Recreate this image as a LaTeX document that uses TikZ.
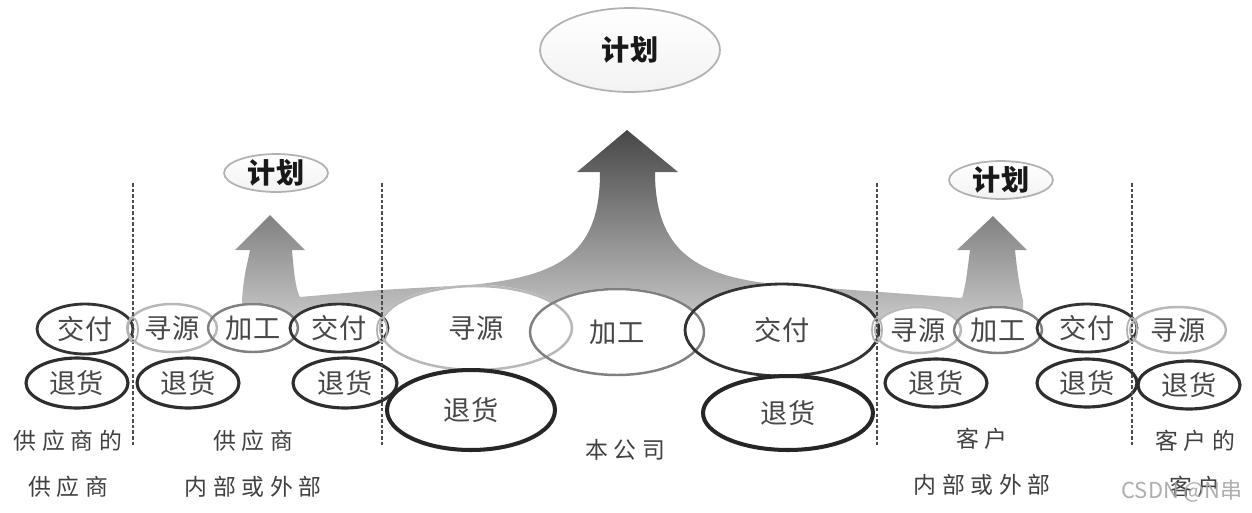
\documentclass[tikz,border=0pt]{standalone}
\usepackage{fontspec}
\setmainfont{Noto Sans CJK SC}
\newfontfamily\lblfont{Noto Sans CJK SC}[LetterSpace=25]
\usetikzlibrary{shapes.geometric,calc}
\pgfdeclarelayer{band}
\pgfdeclarelayer{fills}
\pgfsetlayers{band,fills,main}
\begin{document}
\begin{tikzpicture}[x=0.02cm,y=-0.02cm,
  ell/.style={ellipse, inner sep=0pt, font=\fontsize{15.5}{18}\selectfont, text=black!72},
  sz/.style 2 args={minimum width=#1*0.04cm, minimum height=#2*0.04cm},
  src/.style={ell, draw=black!28, line width=1.4pt},
  mfg/.style={ell, draw=black!50, line width=1.4pt},
  dlv/.style={ell, draw=black!80, line width=1.6pt},
  ret/.style={ell, draw=black!82, line width=1.8pt},
  retbig/.style={ell, draw=black!85, line width=2.3pt},
  plan/.style={ellipse, inner sep=0pt, draw=black!30, line width=1pt,
    font=\bfseries\fontsize{16}{18}\selectfont, text=black!90,
    top color=white, bottom color=black!5},
  joint/.style={ellipse, draw=black!30, line width=1pt, inner sep=0pt,
    minimum width=10*0.02cm, minimum height=24*0.02cm},
  lbl/.style={align=center, font=\lblfont\fontsize{13}{26}\selectfont, text=black!75},
  divider/.style={draw=black!70, line width=1.6pt, dash pattern=on 2pt off 1.2pt}
]
\useasboundingbox (0,0) rectangle (1252,512);

\begin{pgfonlayer}{band}
\fill[white] (0,0) rectangle (1252,512);
\shade[top color=black!72, middle color=black!55, bottom color=black!22]
  (242,320) -- (242,300) .. controls (244,272) and (248,262) .. (250,250)
  -- (235,250) -- (270,215) -- (305,250) -- (292,250)
  .. controls (294,275) and (296,290) .. (300,297)
  -- (380,290) -- (470,285) .. controls (565,276) and (600,250) .. (600,172)
  -- (577,172) -- (627,130) -- (678,172) -- (655,172)
  .. controls (655,250) and (695,278) .. (785,285)
  -- (880,292) -- (962,298) .. controls (966,285) and (968,265) .. (970,250)
  -- (957,250) -- (993,216) -- (1027,250) -- (1015,250)
  .. controls (1017,270) and (1020,290) .. (1023,300)
  -- (1023,320) -- cycle;
\end{pgfonlayer}

% plan ellipses
\node[plan, sz={90}{42}] (p0) at (630,50) {计划};
\node[plan, sz={52}{18}] (p1) at (276,173) {计划};
\node[plan, sz={52}{17}] (p2) at (1001,180) {计划};

% supplier's supplier
\node[dlv, sz={48}{25}] (sd1) at (85,329) {交付};
\node[ret, sz={51}{25}] (sr1) at (77,383) {退货};
% supplier
\node[src, sz={45}{24}] (ss2) at (172,328) {寻源};
\node[mfg, sz={45}{24}] (sm2) at (253,328) {加工};
\node[dlv, sz={49}{24}] (sd2) at (339,328) {交付};
\node[ret, sz={51}{25}] (sr2) at (188,383) {退货};
\node[ret, sz={52}{25}] (sr3) at (345,383) {退货};
% company
\node[src, sz={96}{42}] (cs) at (476,328) {寻源};
\node[mfg, sz={87}{43}] (cm) at (617,332) {加工};
\node[dlv, sz={97}{46}] (cd) at (782,330) {交付};
\node[retbig, sz={84}{40}] (cr1) at (471,410) {退货};
\node[retbig, sz={85}{37}] (cr2) at (788,413) {退货};
% customer
\node[src, sz={43}{23}] (ks) at (918,330) {寻源};
\node[mfg, sz={44}{23}] (km) at (998,330) {加工};
\node[dlv, sz={50}{24}] (kd) at (1087,328) {交付};
\node[ret, sz={51}{24}] (kr1) at (936,383) {退货};
\node[ret, sz={50}{24}] (kr2) at (1087,383) {退货};
% customer's customer
\node[src, sz={48}{23}] (fs) at (1178,330) {寻源};
\node[ret, sz={51}{24}] (fr) at (1189,385) {退货};

\begin{pgfonlayer}{fills}
\foreach \nm in {sd1,sr1,ss2,sm2,sd2,sr2,sr3,cs,cm,cd,cr1,cr2,ks,km,kd,kr1,kr2,fs,fr}{
  \fill[white] let \p1=(\nm.center), \p2=(\nm.east), \p3=(\nm.north) in
    (\p1) ellipse ({\x2-\x1} and {\y3-\y1});
}
\end{pgfonlayer}

% dividers
\draw[divider] (133,183) -- (133,445);
\draw[divider] (382,183) -- (382,445);
\draw[divider] (877,183) -- (877,445);
\draw[divider] (1132,183) -- (1132,445);

% joints
\node[joint] (j1) at (133,330) {};
\node[joint] (j2) at (382,330) {};
\node[joint] (j3) at (877,330) {};
\node[joint] (j4) at (1132,330) {};

% labels
\node[lbl] (l1) at (68,464) {供应商的\\供应商};
\node[lbl] (l2) at (253,464) {供应商\\内部或外部};
\node[lbl] (l3) at (625,450) {本公司};
\node[lbl] (l4) at (982,462) {客户\\内部或外部};
\node[lbl] (l5) at (1195,464) {客户的\\客户};
\node[font=\fontsize{12.5}{14}\selectfont, text=black!35, opacity=0.9] (wm) at (1182,491) {CSDN @N串};
\end{tikzpicture}
\end{document}
